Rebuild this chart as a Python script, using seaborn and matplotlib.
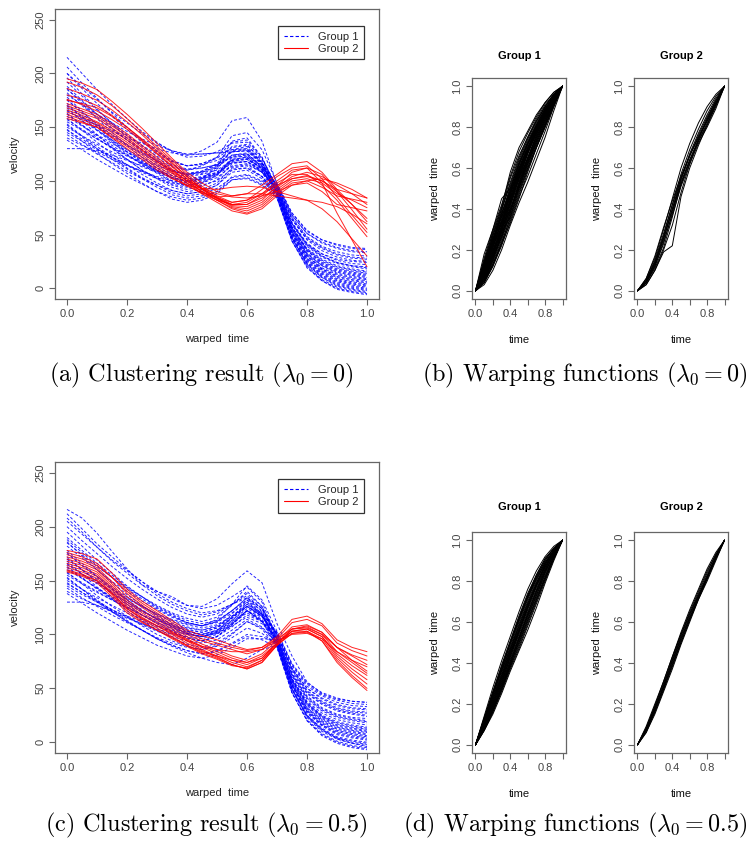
import matplotlib
matplotlib.use("Agg")
import matplotlib.pyplot as plt
from matplotlib.lines import Line2D
import pandas as pd
import seaborn as sns

# time grid of the velocity curves
T_VEL = [0, .05, .1, .15, .2, .25, .3, .35, .4, .45, .5,
         .55, .6, .65, .7, .75, .8, .85, .9, .95, 1.0]

# (a) lambda0 = 0
BLUE_A = [
    [215, 200, 185, 171, 158, 146, 136, 127, 122, 123, 127, 135, 136, 121, 94, 57, 35, 23, 17, 14, 12],
    [206, 191, 177, 163, 150, 138, 128, 119, 114, 115, 119, 127, 128, 115, 90, 51, 28, 16, 9, 6, 4],
    [200, 186, 172, 160, 148, 136, 127, 118, 114, 116, 121, 131, 133, 120, 95, 61, 41, 30, 24, 21, 20],
    [196, 181, 167, 153, 140, 129, 119, 110, 105, 107, 112, 124, 126, 112, 87, 47, 22, 10, 2, -1, -3],
    [192, 179, 166, 154, 143, 132, 123, 115, 111, 112, 115, 122, 123, 114, 96, 65, 47, 38, 32, 29, 28],
    [186, 172, 158, 145, 133, 122, 112, 103, 99, 101, 107, 119, 121, 108, 85, 44, 19, 7, -1, -4, -6],
    [182, 170, 159, 148, 138, 129, 121, 114, 110, 114, 122, 142, 145, 129, 98, 70, 53, 45, 40, 37, 36],
    [178, 165, 152, 140, 129, 119, 110, 102, 98, 102, 113, 137, 140, 122, 90, 52, 30, 18, 11, 8, 6],
    [175, 164, 153, 143, 134, 125, 117, 110, 107, 109, 115, 127, 129, 117, 95, 64, 45, 35, 29, 26, 25],
    [172, 160, 147, 136, 125, 115, 107, 99, 95, 98, 105, 122, 124, 111, 86, 47, 24, 12, 5, 2, 0],
    [170, 160, 151, 142, 133, 126, 119, 113, 110, 112, 115, 124, 125, 113, 92, 57, 36, 25, 19, 16, 14],
    [168, 156, 143, 131, 120, 110, 102, 94, 90, 92, 98, 112, 114, 104, 84, 44, 21, 8, 1, -2, -4],
    [165, 158, 152, 146, 140, 135, 130, 126, 124, 128, 136, 156, 159, 137, 97, 68, 51, 42, 37, 34, 33],
    [162, 152, 142, 133, 124, 116, 109, 103, 100, 102, 108, 120, 122, 110, 89, 53, 31, 19, 13, 10, 8],
    [160, 151, 143, 135, 127, 120, 114, 109, 106, 108, 113, 123, 125, 114, 93, 59, 39, 29, 23, 20, 18],
    [158, 147, 136, 125, 115, 106, 98, 91, 88, 90, 96, 108, 110, 102, 86, 48, 26, 14, 7, 4, 2],
    [155, 147, 139, 131, 124, 117, 112, 107, 104, 106, 110, 119, 120, 112, 97, 70, 54, 45, 41, 38, 37],
    [153, 142, 132, 122, 112, 103, 96, 89, 86, 88, 93, 103, 105, 99, 88, 53, 32, 21, 15, 12, 10],
    [150, 142, 134, 127, 120, 113, 108, 103, 100, 102, 106, 117, 118, 109, 91, 57, 37, 27, 21, 18, 16],
    [148, 137, 126, 116, 107, 98, 90, 83, 80, 82, 88, 101, 103, 97, 85, 46, 23, 11, 4, 1, -1],
    [145, 137, 129, 122, 115, 109, 103, 98, 96, 98, 103, 114, 116, 108, 93, 61, 42, 32, 26, 23, 22],
    [143, 134, 125, 117, 109, 102, 96, 91, 88, 90, 96, 110, 112, 104, 88, 51, 28, 17, 10, 7, 5],
    [140, 133, 127, 120, 114, 109, 104, 100, 98, 100, 106, 118, 120, 112, 96, 68, 51, 43, 38, 35, 34],
    [138, 129, 120, 112, 104, 97, 90, 85, 82, 84, 90, 104, 106, 100, 90, 56, 36, 26, 20, 17, 15],
    [130, 130, 128, 124, 119, 114, 109, 105, 102, 103, 107, 113, 115, 108, 93, 60, 41, 32, 27, 25, 24],
    [188, 175, 162, 149, 138, 127, 118, 110, 106, 108, 114, 128, 130, 116, 89, 50, 27, 15, 8, 5, 3],
    [176, 163, 150, 138, 127, 117, 108, 100, 96, 99, 105, 120, 122, 111, 91, 55, 33, 22, 16, 13, 11],
    [166, 156, 147, 138, 129, 122, 115, 109, 106, 109, 116, 132, 134, 118, 87, 47, 23, 10, 3, 0, -2],
    [157, 148, 139, 131, 123, 116, 110, 105, 102, 104, 108, 117, 118, 110, 95, 66, 48, 39, 34, 31, 30],
    [147, 139, 130, 122, 115, 108, 102, 97, 94, 96, 100, 111, 112, 104, 88, 52, 30, 18, 12, 9, 7],
    [200, 188, 176, 164, 154, 144, 135, 128, 124, 125, 126, 129, 130, 117, 94, 60, 40, 30, 24, 21, 19],
    [180, 171, 162, 154, 146, 139, 133, 128, 125, 125, 126, 127, 128, 116, 95, 64, 46, 37, 31, 28, 27],
    [163, 152, 140, 130, 120, 110, 103, 96, 92, 95, 101, 116, 118, 108, 90, 55, 35, 24, 18, 15, 13],
    [152, 141, 130, 120, 111, 102, 94, 87, 84, 86, 90, 101, 102, 96, 84, 44, 20, 7, 0, -3, -5],
    [185, 174, 162, 152, 142, 133, 125, 118, 114, 116, 122, 136, 138, 122, 92, 55, 32, 21, 14, 11, 9],
    [170, 159, 148, 137, 127, 118, 110, 103, 100, 103, 111, 129, 132, 117, 88, 49, 25, 13, 6, 3, 1],
]
RED_A = [
    [195, 191, 185, 174, 162, 149, 135, 121, 108, 98, 90, 86, 88, 96, 106, 116, 118, 108, 92, 78, 62],
    [192, 187, 180, 170, 158, 145, 132, 119, 106, 95, 86, 80, 82, 92, 104, 112, 114, 102, 85, 68, 52],
    [186, 181, 175, 166, 155, 143, 130, 117, 104, 93, 85, 78, 78, 86, 98, 106, 106, 96, 82, 65, 48],
    [176, 171, 165, 157, 148, 137, 125, 113, 102, 92, 84, 76, 74, 80, 92, 102, 105, 100, 92, 88, 84],
    [170, 165, 160, 151, 142, 131, 120, 110, 100, 90, 82, 74, 70, 76, 88, 98, 100, 94, 86, 83, 80],
    [168, 163, 158, 149, 140, 129, 118, 108, 98, 88, 80, 72, 69, 74, 86, 96, 98, 90, 78, 75, 72],
    [166, 161, 155, 147, 138, 128, 118, 109, 100, 93, 88, 85, 84, 86, 90, 96, 100, 102, 98, 92, 84],
    [162, 157, 152, 143, 134, 124, 114, 105, 96, 88, 82, 78, 78, 84, 94, 104, 108, 104, 96, 88, 78],
    [160, 155, 150, 141, 132, 122, 112, 103, 95, 89, 85, 86, 88, 88, 86, 84, 82, 80, 76, 69, 60],
    [158, 154, 150, 140, 130, 120, 110, 102, 96, 93, 92, 94, 95, 94, 90, 86, 82, 74, 62, 46, 30],
    [175, 172, 168, 160, 150, 139, 128, 116, 104, 93, 84, 77, 76, 82, 95, 108, 112, 106, 90, 73, 55],
    [180, 176, 170, 161, 150, 138, 126, 114, 102, 92, 83, 78, 80, 88, 100, 110, 112, 98, 70, 45, 20],
    [164, 159, 154, 145, 136, 126, 116, 107, 98, 90, 84, 80, 82, 88, 96, 102, 104, 100, 90, 78, 65],
    [172, 167, 162, 153, 144, 133, 122, 111, 100, 90, 82, 75, 72, 78, 90, 100, 102, 98, 88, 82, 75],
]

# (c) lambda0 = 0.5
BLUE_C = [
    [216, 208, 194, 177, 161, 146, 140, 135, 127, 126, 133, 147, 159, 148, 110, 80, 56, 45, 40, 38, 37],
    [208, 195, 181, 168, 157, 146, 136, 128, 122, 118, 121, 128, 136, 124, 96, 58, 36, 24, 17, 14, 12],
    [200, 187, 175, 163, 152, 142, 133, 125, 119, 116, 119, 128, 138, 126, 98, 63, 42, 31, 25, 22, 20],
    [195, 182, 169, 157, 145, 135, 125, 118, 111, 108, 111, 120, 130, 118, 91, 49, 23, 10, 3, -1, -3],
    [190, 178, 166, 155, 144, 135, 126, 119, 113, 110, 113, 122, 132, 122, 100, 68, 48, 38, 32, 29, 28],
    [186, 173, 160, 148, 137, 127, 117, 109, 103, 100, 103, 112, 122, 112, 89, 46, 20, 6, -1, -5, -7],
    [182, 171, 160, 149, 140, 131, 123, 116, 111, 108, 114, 128, 145, 132, 103, 73, 55, 46, 41, 38, 37],
    [178, 166, 154, 143, 132, 123, 114, 107, 101, 98, 103, 116, 130, 119, 93, 53, 28, 16, 8, 5, 3],
    [175, 164, 154, 144, 135, 126, 118, 112, 107, 104, 108, 117, 128, 120, 100, 66, 46, 36, 30, 27, 25],
    [172, 160, 149, 138, 128, 118, 110, 103, 97, 94, 98, 109, 122, 112, 90, 50, 25, 13, 5, 2, 0],
    [170, 160, 151, 142, 134, 126, 119, 113, 109, 106, 109, 117, 126, 117, 95, 59, 37, 25, 19, 16, 14],
    [168, 156, 144, 133, 122, 113, 104, 97, 91, 88, 92, 101, 112, 105, 88, 46, 21, 8, 1, -3, -5],
    [165, 156, 148, 140, 133, 126, 119, 114, 110, 108, 112, 122, 134, 124, 100, 69, 50, 41, 35, 32, 31],
    [162, 152, 143, 134, 126, 118, 111, 105, 101, 98, 102, 111, 122, 113, 92, 53, 30, 18, 11, 8, 6],
    [160, 152, 143, 135, 128, 121, 115, 110, 106, 104, 107, 116, 126, 117, 97, 61, 40, 29, 23, 20, 18],
    [158, 147, 136, 126, 117, 108, 100, 94, 89, 86, 89, 97, 106, 101, 90, 49, 24, 12, 4, 1, -1],
    [155, 147, 139, 132, 125, 118, 113, 108, 104, 102, 106, 115, 126, 119, 102, 72, 54, 44, 39, 36, 35],
    [153, 142, 132, 122, 113, 104, 96, 90, 85, 82, 85, 92, 100, 98, 92, 55, 32, 21, 14, 11, 9],
    [150, 142, 134, 127, 120, 114, 108, 104, 100, 98, 101, 110, 120, 112, 95, 59, 38, 27, 21, 18, 16],
    [148, 139, 130, 121, 112, 104, 96, 89, 83, 78, 74, 72, 78, 86, 90, 50, 25, 12, 3, -1, -4],
    [145, 137, 130, 123, 116, 110, 104, 100, 96, 94, 98, 107, 118, 112, 97, 63, 43, 32, 26, 23, 22],
    [143, 134, 126, 118, 111, 104, 97, 92, 88, 86, 90, 100, 112, 106, 92, 53, 29, 17, 10, 7, 5],
    [140, 133, 127, 121, 115, 110, 105, 101, 98, 96, 100, 110, 122, 116, 102, 71, 52, 43, 37, 34, 33],
    [138, 129, 120, 112, 104, 97, 90, 85, 80, 78, 81, 88, 96, 96, 95, 58, 36, 24, 18, 15, 13],
    [130, 130, 127, 122, 117, 112, 107, 103, 100, 98, 101, 108, 116, 110, 97, 64, 45, 35, 29, 26, 24],
    [188, 176, 164, 153, 142, 133, 124, 117, 111, 108, 112, 122, 134, 121, 92, 52, 27, 15, 7, 4, 2],
    [176, 164, 153, 142, 132, 122, 114, 107, 101, 98, 102, 113, 126, 117, 95, 57, 34, 22, 15, 12, 10],
    [166, 156, 147, 138, 130, 122, 115, 109, 105, 102, 106, 119, 132, 119, 90, 49, 24, 11, 4, 0, -2],
    [157, 148, 140, 132, 125, 118, 111, 106, 102, 100, 104, 113, 124, 117, 100, 68, 50, 40, 34, 31, 30],
    [147, 139, 131, 123, 116, 109, 103, 98, 94, 92, 95, 104, 114, 107, 92, 54, 31, 19, 12, 9, 7],
    [205, 193, 181, 169, 159, 149, 140, 133, 127, 124, 127, 135, 144, 130, 97, 62, 41, 30, 24, 21, 19],
    [212, 198, 184, 172, 160, 149, 138, 130, 124, 120, 122, 128, 134, 124, 100, 67, 47, 37, 31, 28, 27],
    [163, 153, 142, 133, 124, 115, 108, 102, 97, 94, 98, 109, 122, 114, 95, 57, 35, 23, 16, 13, 11],
    [152, 142, 131, 121, 112, 104, 96, 90, 85, 82, 84, 91, 98, 95, 88, 46, 20, 7, 0, -4, -6],
    [185, 174, 163, 153, 143, 135, 127, 120, 115, 112, 116, 127, 140, 126, 95, 56, 32, 20, 13, 10, 8],
    [170, 160, 149, 139, 130, 122, 114, 108, 103, 100, 104, 115, 128, 118, 93, 53, 29, 16, 9, 6, 4],
]
RED_C = [
    [178, 175, 170, 157, 142, 131, 122, 113, 104, 99, 95, 90, 86, 88, 98, 114, 117, 110, 95, 88, 84],
    [176, 172, 166, 153, 138, 127, 118, 109, 100, 94, 90, 86, 82, 86, 96, 111, 114, 108, 92, 85, 80],
    [172, 168, 162, 149, 135, 125, 116, 107, 98, 91, 86, 80, 76, 82, 94, 107, 109, 102, 88, 81, 76],
    [170, 166, 160, 147, 132, 122, 114, 105, 96, 89, 84, 78, 74, 80, 92, 105, 107, 100, 84, 76, 70],
    [168, 164, 158, 145, 130, 120, 112, 103, 95, 88, 82, 76, 72, 78, 92, 103, 105, 98, 82, 71, 62],
    [166, 162, 156, 143, 128, 118, 110, 102, 94, 86, 80, 74, 70, 76, 90, 103, 105, 98, 80, 68, 58],
    [164, 160, 154, 141, 126, 116, 108, 100, 92, 85, 79, 72, 68, 74, 90, 101, 103, 96, 78, 65, 54],
    [162, 158, 152, 139, 124, 114, 106, 98, 90, 83, 78, 72, 68, 74, 90, 101, 102, 94, 76, 62, 50],
    [160, 156, 150, 137, 122, 112, 104, 96, 89, 82, 77, 71, 69, 76, 92, 103, 103, 94, 74, 60, 48],
    [159, 155, 150, 138, 124, 115, 108, 101, 94, 89, 86, 84, 84, 86, 94, 100, 101, 96, 84, 74, 64],
    [174, 170, 164, 153, 140, 129, 120, 111, 102, 96, 92, 88, 85, 88, 96, 105, 106, 100, 88, 80, 72],
    [158, 154, 148, 135, 120, 111, 104, 97, 90, 84, 80, 76, 74, 78, 92, 105, 108, 102, 88, 76, 66],
]

# time grid of the warping functions
T_WARP = [0, .1, .2, .3, .4, .5, .6, .7, .8, .9, 1.0]

WARP_B1 = [
    [0, .18, .30, .45, .50, .62, .72, .80, .88, .95, 1],
    [0, .15, .28, .40, .52, .64, .74, .83, .90, .96, 1],
    [0, .12, .25, .37, .50, .62, .72, .81, .89, .95, 1],
    [0, .10, .22, .34, .46, .58, .69, .79, .88, .95, 1],
    [0, .08, .20, .32, .44, .56, .67, .77, .86, .94, 1],
    [0, .07, .18, .30, .42, .53, .64, .74, .84, .93, 1],
    [0, .06, .16, .28, .40, .51, .62, .72, .82, .92, 1],
    [0, .05, .14, .25, .37, .49, .60, .70, .80, .91, 1],
    [0, .04, .12, .22, .34, .46, .56, .67, .78, .90, 1],
    [0, .03, .10, .20, .32, .43, .53, .64, .75, .88, 1],
    [0, .09, .21, .33, .47, .60, .70, .79, .87, .94, 1],
    [0, .11, .24, .36, .48, .60, .71, .80, .88, .95, 1],
    [0, .13, .26, .36, .46, .57, .68, .78, .87, .95, 1],
    [0, .06, .15, .27, .41, .55, .67, .77, .86, .94, 1],
    [0, .05, .15, .29, .36, .48, .60, .71, .81, .91, 1],
    [0, .07, .19, .30, .39, .50, .61, .72, .82, .92, 1],
    [0, .08, .17, .26, .38, .52, .63, .73, .83, .92, 1],
    [0, .10, .22, .31, .40, .52, .64, .75, .85, .93, 1],
    [0, .14, .27, .38, .48, .58, .68, .77, .86, .94, 1],
    [0, .04, .13, .24, .35, .47, .59, .70, .81, .91, 1],
    [0, .09, .20, .30, .43, .57, .69, .79, .88, .95, 1],
    [0, .06, .17, .29, .44, .58, .69, .78, .86, .94, 1],
    [0, .12, .23, .33, .44, .54, .65, .76, .86, .94, 1],
    [0, .05, .13, .23, .36, .50, .62, .73, .83, .92, 1],
    [0, .08, .19, .31, .45, .55, .65, .75, .84, .93, 1],
    [0, .16, .30, .42, .56, .68, .77, .85, .92, .97, 1],
    [0, .14, .29, .41, .58, .70, .78, .86, .92, .97, 1],
    [0, .12, .27, .40, .55, .66, .75, .83, .90, .96, 1],
    [0, .11, .25, .39, .53, .65, .75, .84, .91, .96, 1],
    [0, .10, .23, .37, .51, .63, .73, .82, .90, .96, 1],
    [0, .07, .18, .31, .45, .59, .70, .80, .88, .95, 1],
    [0, .09, .21, .34, .48, .61, .72, .81, .89, .95, 1],
    [0, .06, .16, .27, .39, .53, .65, .76, .85, .93, 1],
    [0, .05, .15, .26, .38, .51, .63, .74, .84, .93, 1],
    [0, .11, .23, .35, .49, .62, .72, .81, .89, .95, 1],
    [0, .08, .18, .29, .42, .56, .68, .78, .87, .94, 1],
    [0, .10, .24, .38, .49, .59, .69, .79, .87, .94, 1],
    [0, .04, .12, .23, .33, .45, .58, .70, .80, .90, 1],
    [0, .13, .25, .34, .43, .55, .67, .78, .87, .94, 1],
    [0, .07, .17, .32, .47, .59, .69, .78, .86, .93, 1],
]
WARP_B2 = [
    [0, .06, .16, .30, .45, .60, .72, .82, .90, .96, 1],
    [0, .05, .14, .27, .42, .57, .69, .79, .88, .95, 1],
    [0, .05, .13, .25, .40, .55, .67, .77, .86, .94, 1],
    [0, .04, .12, .23, .38, .54, .66, .76, .85, .93, 1],
    [0, .04, .11, .21, .36, .52, .64, .74, .83, .92, 1],
    [0, .03, .10, .19, .22, .46, .60, .71, .81, .91, 1],
    [0, .05, .15, .28, .42, .55, .66, .75, .83, .91, 1],
    [0, .04, .13, .26, .40, .53, .64, .73, .81, .90, 1],
    [0, .06, .17, .31, .44, .56, .66, .75, .84, .92, 1],
    [0, .03, .10, .20, .32, .48, .62, .74, .84, .93, 1],
    [0, .05, .14, .26, .39, .52, .63, .73, .82, .91, 1],
    [0, .04, .12, .24, .37, .51, .62, .72, .80, .89, 1],
]
WARP_D1 = [
    [0, .14, .28, .41, .53, .65, .76, .85, .92, .97, 1],
    [0, .13, .26, .39, .51, .63, .74, .83, .91, .96, 1],
    [0, .12, .25, .37, .49, .61, .72, .82, .90, .96, 1],
    [0, .11, .23, .35, .47, .59, .70, .80, .89, .95, 1],
    [0, .10, .22, .34, .46, .57, .68, .78, .87, .94, 1],
    [0, .10, .21, .32, .44, .55, .66, .76, .86, .94, 1],
    [0, .09, .20, .31, .42, .53, .64, .75, .85, .93, 1],
    [0, .09, .19, .30, .41, .52, .63, .73, .84, .93, 1],
    [0, .08, .18, .29, .40, .50, .61, .72, .82, .92, 1],
    [0, .08, .17, .27, .38, .48, .59, .70, .81, .91, 1],
    [0, .07, .16, .26, .37, .47, .58, .69, .80, .91, 1],
    [0, .07, .15, .25, .36, .46, .56, .67, .79, .90, 1],
    [0, .12, .24, .36, .48, .60, .71, .81, .89, .95, 1],
    [0, .11, .22, .33, .45, .56, .67, .78, .87, .94, 1],
    [0, .09, .19, .30, .43, .55, .67, .78, .88, .95, 1],
    [0, .08, .18, .28, .39, .51, .62, .73, .83, .92, 1],
    [0, .13, .25, .36, .47, .58, .69, .79, .88, .95, 1],
    [0, .10, .20, .31, .43, .54, .65, .75, .85, .93, 1],
    [0, .08, .17, .28, .40, .52, .64, .75, .85, .93, 1],
    [0, .11, .24, .37, .50, .62, .73, .83, .91, .96, 1],
    [0, .12, .25, .38, .50, .62, .73, .82, .90, .96, 1],
    [0, .10, .21, .33, .45, .56, .67, .77, .86, .94, 1],
    [0, .09, .18, .29, .41, .52, .63, .74, .84, .93, 1],
    [0, .08, .17, .27, .39, .50, .61, .71, .82, .92, 1],
    [0, .11, .23, .34, .46, .58, .69, .79, .88, .95, 1],
    [0, .09, .20, .32, .44, .56, .68, .78, .87, .94, 1],
    [0, .13, .26, .38, .50, .61, .72, .81, .89, .95, 1],
    [0, .07, .16, .27, .38, .49, .60, .71, .81, .91, 1],
]
WARP_D2 = [
    [0, .09, .20, .31, .43, .55, .66, .76, .86, .94, 1],
    [0, .08, .19, .30, .42, .54, .65, .75, .85, .93, 1],
    [0, .08, .18, .29, .41, .53, .64, .74, .84, .93, 1],
    [0, .07, .17, .28, .40, .52, .63, .73, .83, .92, 1],
    [0, .07, .16, .27, .39, .51, .62, .72, .82, .92, 1],
    [0, .06, .15, .26, .37, .49, .60, .71, .81, .91, 1],
    [0, .07, .17, .29, .41, .52, .62, .72, .81, .91, 1],
    [0, .08, .18, .28, .39, .50, .61, .72, .82, .92, 1],
    [0, .06, .16, .27, .38, .50, .61, .71, .80, .90, 1],
    [0, .08, .19, .31, .43, .54, .64, .73, .82, .91, 1],
]

CAPTIONS = [
    r"(a) Clustering result ($\lambda_0 = 0$)",
    r"(b) Warping functions ($\lambda_0 = 0$)",
    r"(c) Clustering result ($\lambda_0 = 0.5$)",
    r"(d) Warping functions ($\lambda_0 = 0.5$)",
]

W, H = 751, 844
sns.set_theme(style="white")
plt.rcParams["font.family"] = ["Liberation Sans", "DejaVu Sans"]
plt.rcParams["mathtext.fontset"] = "cm"

BOX = "#666666"
TXT = "#444444"


def long_df(curves, grid, group):
    rows = []
    for i, c in enumerate(curves):
        for t, v in zip(grid, c):
            rows.append((group, "%s-%d" % (group, i), t, v))
    return pd.DataFrame(rows, columns=["group", "curve", "t", "v"])


def px_axes(fig, l, t, r, b):
    return fig.add_axes([l / W, 1 - b / H, (r - l) / W, (b - t) / H])


def r_axes(ax, xticks, xlabels, yticks, ylabels):
    for s in ax.spines.values():
        s.set_visible(True)
        s.set_color(BOX)
        s.set_linewidth(0.9)
    ax.tick_params(bottom=True, left=True, direction="out", length=4, width=0.8,
                   color=BOX, labelsize=8, labelcolor=TXT, pad=3)
    ax.set_xticks(xticks)
    ax.set_xticklabels(xlabels)
    ax.set_yticks(yticks)
    ax.set_yticklabels(ylabels, rotation=90, va="center")
    ax.xaxis.label.set_verticalalignment("center")
    ax.yaxis.label.set_verticalalignment("center")


def velocity_panel(ax, blue, red):
    df = pd.concat([long_df(blue, T_VEL, "Group 1"), long_df(red, T_VEL, "Group 2")])
    sns.lineplot(data=df, x="t", y="v", hue="group", style="group", units="curve",
                 estimator=None, sort=False, legend=False, ax=ax, lw=0.7,
                 palette={"Group 1": "#0000ff", "Group 2": "#ff0000"},
                 dashes={"Group 1": (3, 2), "Group 2": ""}, alpha=0.85)
    ax.set_xlim(-0.04, 1.04)
    ax.set_ylim(-10, 260)
    r_axes(ax, [0, .2, .4, .6, .8, 1.0], ["0.0", "0.2", "0.4", "0.6", "0.8", "1.0"],
           [0, 50, 100, 150, 200, 250], ["0", "50", "100", "150", "200", "250"])
    ax.set_xlabel("warped  time", fontsize=8, color="#222222")
    ax.set_ylabel("velocity", fontsize=8, color="#222222")
    ax.xaxis.set_label_coords(0.5, -0.138)
    ax.yaxis.set_label_coords(-0.123, 0.5)
    handles = [Line2D([], [], color="#0000ff", lw=0.8, ls=(0, (3, 2))),
               Line2D([], [], color="#ff0000", lw=0.8)]
    leg = ax.legend(handles, ["Group 1", "Group 2"], loc="upper right",
                    bbox_to_anchor=(0.954, 0.941), borderaxespad=0, fontsize=8,
                    frameon=True, fancybox=False, framealpha=1, edgecolor="#333333",
                    handlelength=2.2, handletextpad=0.9, borderpad=0.5, labelspacing=0.2)
    leg.get_frame().set_linewidth(0.9)


def warp_panel(ax, curves, title, title_y):
    df = long_df(curves, T_WARP, "w")
    sns.lineplot(data=df, x="t", y="v", units="curve", estimator=None, sort=False,
                 color="black", lw=0.7, ax=ax)
    ax.set_xlim(-0.04, 1.04)
    ax.set_ylim(-0.04, 1.04)
    r_axes(ax, [0, .2, .4, .6, .8, 1.0], ["0.0", "", "0.4", "", "0.8", ""],
           [0, .2, .4, .6, .8, 1.0], ["0.0", "0.2", "0.4", "0.6", "0.8", "1.0"])
    ax.set_xlabel("time", fontsize=8, color="#111111")
    ax.set_ylabel("warped  time", fontsize=8, color="#111111")
    ax.xaxis.set_label_coords(0.5, -0.186)
    ax.yaxis.set_label_coords(-0.394, 0.5)
    ax.text(0.5, title_y, title, transform=ax.transAxes, ha="center", va="center",
            fontsize=8, fontweight="bold", color="black")


fig = plt.figure(figsize=(W / 100, H / 100), dpi=100)

ax_a = px_axes(fig, 55, 9, 379, 299)
velocity_panel(ax_a, BLUE_A, RED_A)
ax_c = px_axes(fig, 55, 462, 379, 753)
velocity_panel(ax_c, BLUE_C, RED_C)

warp_panel(px_axes(fig, 472, 78, 566, 299), WARP_B1, "Group 1", 1.10)
warp_panel(px_axes(fig, 634, 78, 728, 299), WARP_B2, "Group 2", 1.10)
warp_panel(px_axes(fig, 472, 532, 566, 753), WARP_D1, "Group 1", 1.113)
warp_panel(px_axes(fig, 634, 532, 728, 753), WARP_D2, "Group 2", 1.113)

cap_pos = [(201, 375), (585, 375), (206, 825), (575, 825)]
for (cx, cy), txt in zip(cap_pos, CAPTIONS):
    fig.text(cx / W, 1 - cy / H, txt, ha="center", va="center", fontsize=17.4,
             family="cmr10", color="black")

fig.savefig("out.png", dpi=100)
